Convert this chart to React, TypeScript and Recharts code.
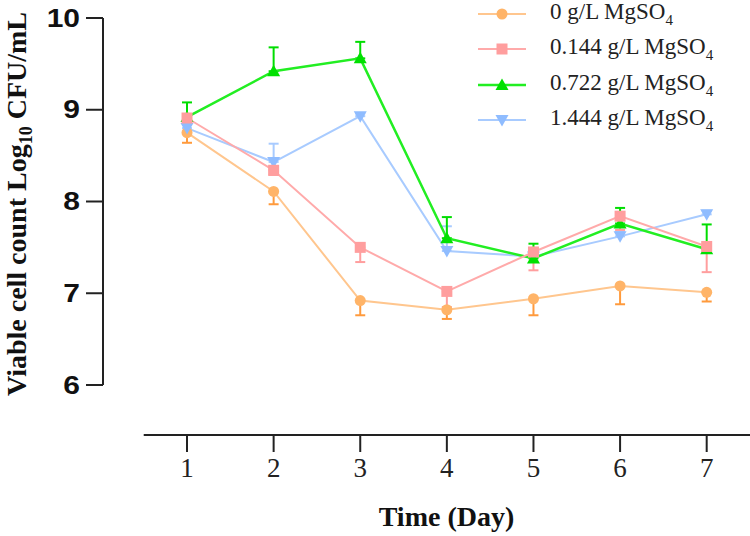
import React from "react";
import { LineChart, Line, XAxis, YAxis, ErrorBar, Legend, ReferenceLine } from "recharts";

const days = [1, 2, 3, 4, 5, 6, 7];
const mg0 = [8.75, 8.11, 6.92, 6.82, 6.94, 7.08, 7.01];
const mg0Err = [0.11, 0.14, 0.16, 0.1, 0.18, 0.2, 0.1];
const mg0144 = [8.91, 8.34, 7.5, 7.02, 7.45, 7.84, 7.51];
const mg0144Err = [0.05, 0.05, 0.16, 0.17, 0.2, 0.15, 0.28];
const mg0722 = [8.92, 9.42, 9.56, 7.6, 7.38, 7.76, 7.48];
const mg0722Err = [0.16, 0.26, 0.18, 0.23, 0.16, 0.17, 0.27];
const mg1444 = [8.8, 8.43, 8.93, 7.46, 7.4, 7.62, 7.86];
const mg1444Err = [0.05, 0.2, 0.03, 0.27, 0.05, 0.05, 0.04];

const yTicks = [6, 7, 8, 9, 10];
const X_MIN = 0.03;
const X_MAX = 7.5;
const Y_MIN = 5.455;
const Y_MAX = 10;

type Shape = "circle" | "square" | "up" | "down";

interface Series {
  id: string;
  conc: string;
  values: number[];
  err: number[];
  errDir: "up" | "down";
  line: string;
  marker: string;
  errColor: string;
  shape: Shape;
  width: number;
}

// legend order
const series: Series[] = [
  { id: "m0", conc: "0", values: mg0, err: mg0Err, errDir: "down", line: "#FFC68E", marker: "#FFB468", errColor: "#FF9A3C", shape: "circle", width: 2 },
  { id: "m0144", conc: "0.144", values: mg0144, err: mg0144Err, errDir: "down", line: "#FFAAAA", marker: "#FF9E9E", errColor: "#FF9E9E", shape: "square", width: 2 },
  { id: "m0722", conc: "0.722", values: mg0722, err: mg0722Err, errDir: "up", line: "#22EE22", marker: "#00E000", errColor: "#00DD00", shape: "up", width: 2.5 },
  { id: "m1444", conc: "1.444", values: mg1444, err: mg1444Err, errDir: "up", line: "#A8CBFF", marker: "#8FBCFF", errColor: "#A8CBFF", shape: "down", width: 2 },
];

// draw order (pink on top)
const drawOrder = ["m0", "m1444", "m0722", "m0144"];

const data = days.map((day, i) => {
  const row: Record<string, number | number[]> = { day };
  for (const s of series) {
    row[s.id] = s.values[i];
    row[`${s.id}_err`] = s.errDir === "down" ? [s.err[i], 0] : [0, s.err[i]];
  }
  return row;
});

function Marker({ cx, cy, shape, color }: { cx: number; cy: number; shape: Shape; color: string }) {
  if (shape === "circle") return <circle cx={cx} cy={cy} r={5.5} fill={color} />;
  if (shape === "square") return <rect x={cx - 5.5} y={cy - 5.5} width={11} height={11} fill={color} />;
  if (shape === "up")
    return <polygon points={`${cx},${cy - 6.5} ${cx + 6.5},${cy + 5} ${cx - 6.5},${cy + 5}`} fill={color} />;
  return <polygon points={`${cx - 6.5},${cy - 5} ${cx + 6.5},${cy - 5} ${cx},${cy + 6.5}`} fill={color} />;
}

const serif = "'Liberation Serif', 'Times New Roman', serif";
const sans = "'Liberation Sans', Arial, sans-serif";

function LegendBox() {
  return (
    <div style={{ fontFamily: serif, fontSize: 23, color: "#222" }}>
      {series.map((s) => (
        <div key={s.id} style={{ display: "flex", alignItems: "center", height: 35.5 }}>
          <svg width={48} height={20} style={{ marginRight: 24 }}>
            <line x1={0} y1={10} x2={48} y2={10} stroke={s.line} strokeWidth={s.width} />
            <Marker cx={24} cy={10} shape={s.shape} color={s.marker} />
          </svg>
          <span>
            {s.conc} g/L MgSO<sub style={{ fontSize: 15 }}>4</sub>
          </span>
        </div>
      ))}
    </div>
  );
}

// wide, heavy tick numbers like the original figure
function YTick(props: any) {
  const { x, y, payload } = props;
  return (
    <text
      transform={`translate(${x}, ${y}) scale(1.2, 1)`}
      textAnchor="end"
      dominantBaseline="central"
      fontFamily={sans}
      fontWeight={700}
      fontSize={25}
      fill="#111"
    >
      {payload.value}
    </text>
  );
}

function YTitle() {
  return (
    <text
      x={26}
      y={204}
      transform="rotate(-90, 26, 204)"
      textAnchor="middle"
      fontFamily={serif}
      fontWeight={700}
      fontSize={28}
      fill="#111"
    >
      Viable cell count Log
      <tspan fontSize={18} dy={6}>10</tspan>
      <tspan dy={-6}> CFU/mL</tspan>
    </text>
  );
}

function XTitle(props: any) {
  const vb = props.viewBox;
  return (
    <text
      x={vb.x + vb.width / 2 + 20}
      y={vb.y + vb.height - 10}
      textAnchor="middle"
      fontFamily={serif}
      fontWeight={700}
      fontSize={28}
      fill="#111"
    >
      Time (Day)
    </text>
  );
}

export default function App() {
  return (
    <div style={{ position: "absolute", left: 0, top: 0, width: 750, height: 536, background: "#fff" }}>
      <LineChart width={750} height={536} data={data} margin={{ top: 18, right: 0, bottom: 0, left: 0 }}>
        <XAxis
          dataKey="day"
          type="number"
          domain={[X_MIN, X_MAX]}
          ticks={days}
          allowDataOverflow
          axisLine={false}
          tickSize={17}
          tickMargin={6}
          tickLine={{ stroke: "#222", strokeWidth: 2 }}
          tick={{ fontSize: 27, fill: "#222", fontFamily: serif }}
          height={101}
          label={<XTitle />}
        />
        <YAxis
          type="number"
          domain={[Y_MIN, Y_MAX]}
          ticks={yTicks}
          allowDataOverflow
          axisLine={false}
          tickSize={17}
          tickMargin={6}
          tickLine={{ stroke: "#222", strokeWidth: 2 }}
          tick={<YTick />}
          width={103}
          label={<YTitle />}
        />
        <ReferenceLine
          segment={[{ x: X_MIN, y: 6 }, { x: X_MIN, y: 10 }]}
          stroke="#222"
          strokeWidth={2}
          ifOverflow="visible"
        />
        <ReferenceLine
          segment={[{ x: 0.5, y: Y_MIN }, { x: X_MAX, y: Y_MIN }]}
          stroke="#222"
          strokeWidth={2}
          ifOverflow="visible"
        />
        <Legend
          layout="vertical"
          align="center"
          verticalAlign="middle"
          content={() => <LegendBox />}
          wrapperStyle={{ position: "absolute", left: 478, top: -4, width: 272 }}
        />
        {drawOrder.map((id) => {
          const s = series.find((x) => x.id === id)!;
          return (
            <Line
              key={s.id}
              dataKey={s.id}
              type="linear"
              stroke={s.line}
              strokeWidth={s.width}
              isAnimationActive={false}
              activeDot={false}
              dot={(p: any) => <Marker key={`${s.id}-${p.index}`} cx={p.cx} cy={p.cy} shape={s.shape} color={s.marker} />}
            >
              <ErrorBar dataKey={`${s.id}_err`} direction="y" width={5} stroke={s.errColor} strokeWidth={2} isAnimationActive={false} />
            </Line>
          );
        })}
      </LineChart>
    </div>
  );
}
